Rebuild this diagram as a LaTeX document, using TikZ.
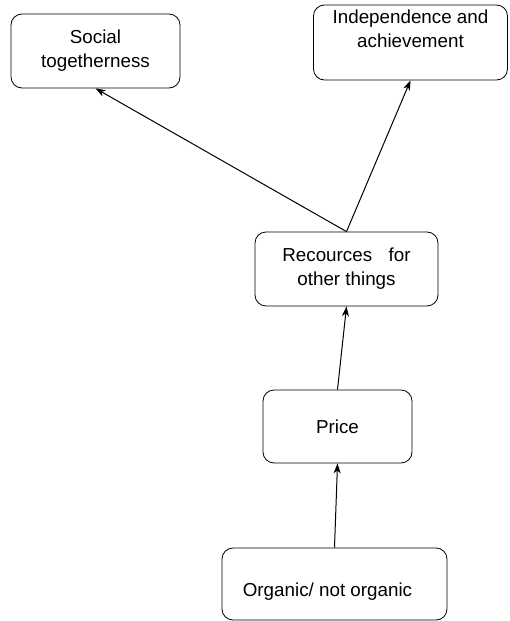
\documentclass[tikz,border=0pt]{standalone}
\usepackage{fontspec}
\setmainfont{Liberation Sans}
\usetikzlibrary{arrows.meta}
\begin{document}
\begin{tikzpicture}[x=1pt,y=-1pt,
  box/.style={draw, line width=0.8pt, rounded corners=11pt, align=center,
    inner sep=0pt, font=\fontsize{18.8}{24}\selectfont},
  link/.style={line width=1pt, -{Stealth[length=10pt,width=7pt,inset=3pt]}}]
\useasboundingbox (0,0) rectangle (509,621);
\node[box, minimum width=169pt, minimum height=74pt] (soc) at (95.5,51) {Social\\togetherness};
\node[box, minimum width=194pt, minimum height=75pt] (ind) at (410.5,42.5) {Independence and\\achievement\\[4pt]};
\node[box, minimum width=183pt, minimum height=74pt] (rec) at (346.5,269) {Recources\hspace{0.6em} for\\other things};
\node[box, minimum width=149pt, minimum height=73pt] (pri) at (337.5,426.5) {Price};
\node[box, minimum width=225pt, minimum height=72pt] (org) at (334.5,584) {\strut\\[-12pt]Organic/ not organic\hspace*{14pt}};
\draw[link] (org.north) -- (pri.south);
\draw[link] (pri.north) -- (rec.south);
\draw[link] (rec.north) -- (soc.south);
\draw[link] (rec.north) -- (ind.south);
\end{tikzpicture}
\end{document}
